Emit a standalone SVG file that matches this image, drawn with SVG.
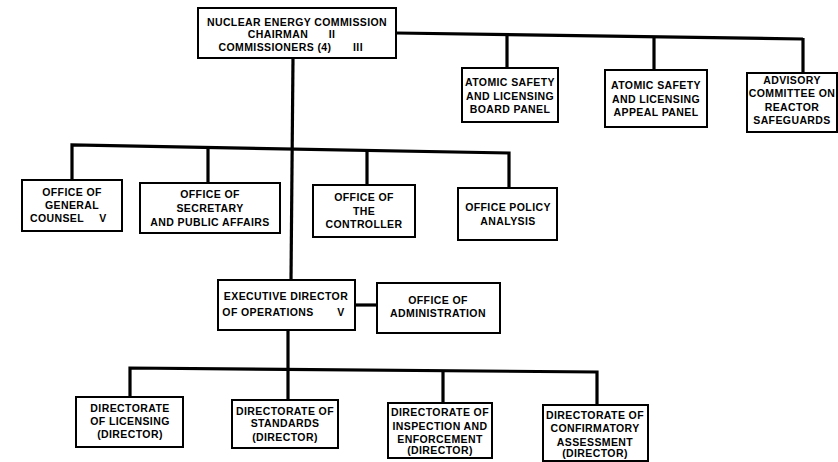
<svg xmlns="http://www.w3.org/2000/svg" width="838" height="462" viewBox="0 0 838 462">
<style>
.box{fill:#fff;stroke:#000;stroke-width:2}
.c{fill:none;stroke:#000;stroke-width:3.2;stroke-linejoin:miter}
text{font-family:"Liberation Sans",Arial,sans-serif;font-weight:bold;font-size:10.5px;letter-spacing:0.4px;fill:#000;text-anchor:middle}
</style>
<rect width="838" height="462" fill="#fff"/>
<g id="connectors">
<polyline class="c" points="293,58 291,280"/>
<polyline class="c" points="396,33 803,39"/>
<polyline class="c" points="507,34 507,68"/>
<polyline class="c" points="654,36 654,70"/>
<polyline class="c" points="803,38 803,73"/>
<polyline class="c" points="72,180 72,145 509,153 509,188"/>
<polyline class="c" points="208,147 208,183"/>
<polyline class="c" points="367,150 367,185"/>
<polyline class="c" points="355,305 377,305"/>
<polyline class="c" points="288,330 288,400"/>
<polyline class="c" points="130,397 130,368 597,372 597,405"/>
<polyline class="c" points="443,371 443,403"/>
</g>
<g id="nec"><rect class="box" x="198" y="8" width="198" height="50"/>
<text x="297" y="26">NUCLEAR ENERGY COMMISSION</text>
<text x="278" y="38">CHAIRMAN</text><text x="332" y="38">II</text>
<text x="275" y="51">COMMISSIONERS (4)</text><text x="358" y="51">III</text></g>
<g id="aslbp"><rect class="box" x="462" y="68" width="96" height="54"/>
<text x="510" y="86">ATOMIC SAFETY</text><text x="510" y="100">AND LICENSING</text><text x="510" y="113">BOARD PANEL</text></g>
<g id="aslap"><rect class="box" x="605" y="70" width="102" height="57"/>
<text x="656" y="89">ATOMIC SAFETY</text><text x="656" y="103">AND LICENSING</text><text x="656" y="116">APPEAL PANEL</text></g>
<g id="acrs"><rect class="box" x="747" y="73" width="90" height="59"/>
<text x="792" y="84">ADVISORY</text><text x="792" y="97">COMMITTEE ON</text><text x="792" y="111">REACTOR</text><text x="792" y="124">SAFEGUARDS</text></g>
<g id="ogc"><rect class="box" x="22" y="180" width="100" height="51"/>
<text x="72" y="196">OFFICE OF</text><text x="72" y="209">GENERAL</text><text x="57" y="222">COUNSEL</text><text x="103" y="222">V</text></g>
<g id="osec"><rect class="box" x="140" y="183" width="140" height="50"/>
<text x="210" y="198">OFFICE OF</text><text x="210" y="212">SECRETARY</text><text x="210" y="226">AND PUBLIC AFFAIRS</text></g>
<g id="ocon"><rect class="box" x="313" y="185" width="102" height="52"/>
<text x="364" y="201">OFFICE OF</text><text x="364" y="215">THE</text><text x="364" y="228">CONTROLLER</text></g>
<g id="opa"><rect class="box" x="458" y="188" width="99" height="52"/>
<text x="508" y="211">OFFICE POLICY</text><text x="508" y="225">ANALYSIS</text></g>
<g id="edo"><rect class="box" x="218" y="280" width="137" height="50"/>
<text x="286" y="300">EXECUTIVE DIRECTOR</text><text x="268" y="316">OF OPERATIONS</text><text x="341" y="316">V</text></g>
<g id="oadm"><rect class="box" x="377" y="283" width="123" height="50"/>
<text x="438" y="304">OFFICE OF</text><text x="438" y="317">ADMINISTRATION</text></g>
<g id="dlic"><rect class="box" x="76" y="397" width="107" height="50"/>
<text x="130" y="412">DIRECTORATE</text><text x="130" y="425">OF LICENSING</text><text x="130" y="438">(DIRECTOR)</text></g>
<g id="dstd"><rect class="box" x="232" y="400" width="106" height="48"/>
<text x="285" y="415">DIRECTORATE OF</text><text x="285" y="427">STANDARDS</text><text x="285" y="441">(DIRECTOR)</text></g>
<g id="dins"><rect class="box" x="388" y="403" width="104" height="55"/>
<text x="440" y="416">DIRECTORATE OF</text><text x="440" y="430">INSPECTION AND</text><text x="440" y="443">ENFORCEMENT</text><text x="440" y="454">(DIRECTOR)</text></g>
<g id="dcon"><rect class="box" x="543" y="405" width="105" height="56"/>
<text x="595" y="419">DIRECTORATE OF</text><text x="595" y="432">CONFIRMATORY</text><text x="595" y="446">ASSESSMENT</text><text x="595" y="457">(DIRECTOR)</text></g>
</svg>
